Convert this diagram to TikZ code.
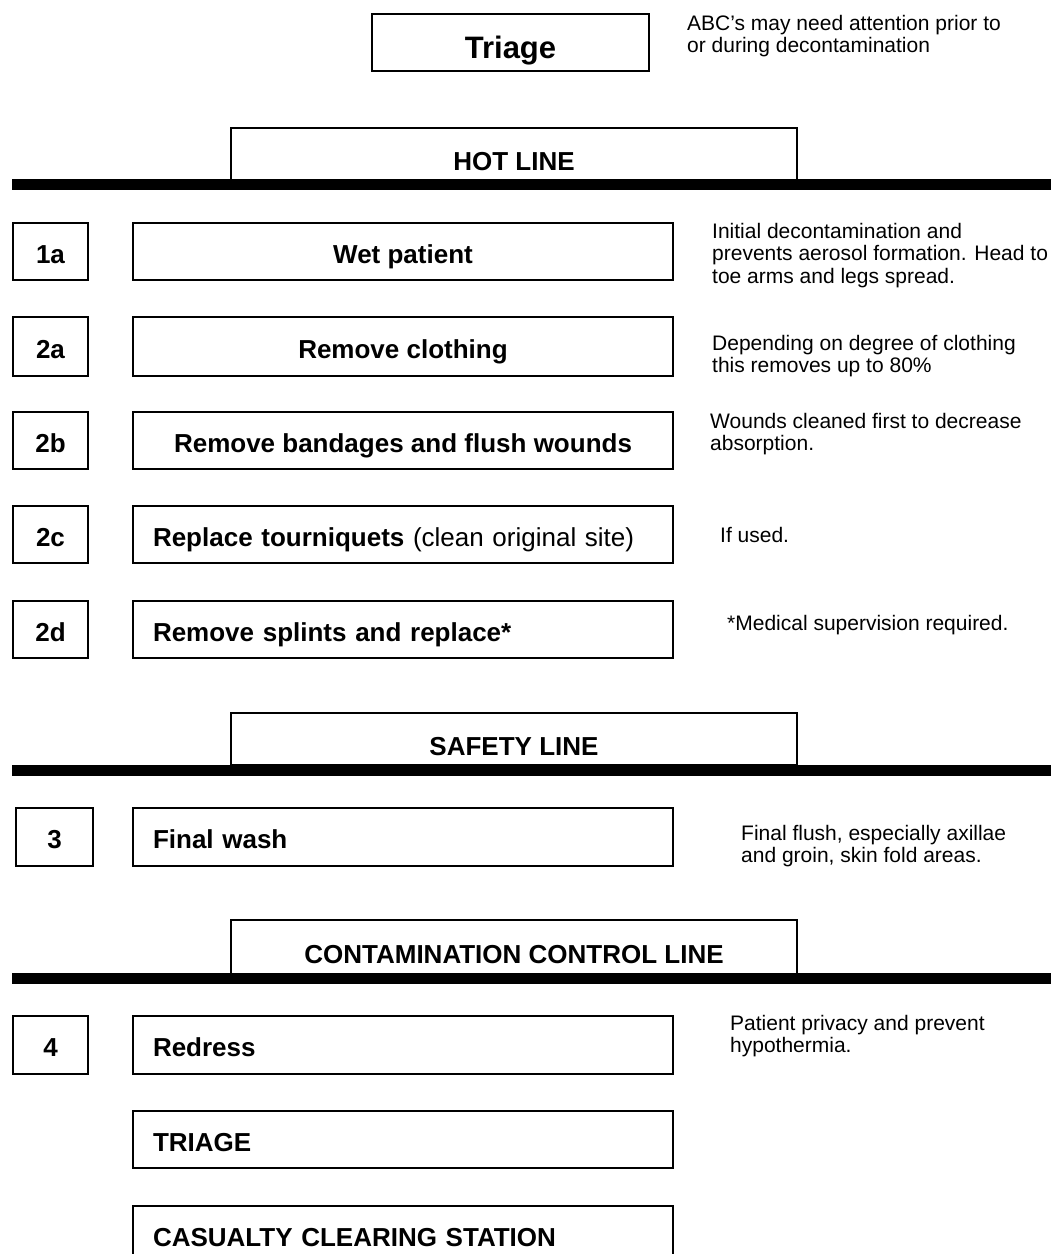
\documentclass[tikz,border=0pt]{standalone}
\usepackage{fontspec}
\setmainfont{Liberation Sans}
\begin{document}
\begin{tikzpicture}[x=1pt,y=-1pt,
  box/.style={draw, line width=2pt, inner sep=0pt, anchor=north west,
    minimum height=57pt, text height=23pt, text depth=0pt,
    font=\fontsize{26}{28}\selectfont\bfseries},
  mainbox/.style={box, minimum width=540pt},
  leftbox/.style={box, text width=500pt, inner xsep=20pt, align=left},
  numbox/.style={box, minimum width=75pt},
  tabbox/.style={box, minimum width=566pt, text height=32pt},
  barline/.style={line width=11pt},
  note/.style={anchor=north west, inner sep=0pt, align=left,
    font=\fontsize{21}{22.5}\selectfont},
]
\useasboundingbox (0,0) rectangle (1051,1254);

% top triage
\node[box, minimum width=277pt, minimum height=57pt, text height=31pt,
  font=\fontsize{31}{33}\selectfont\bfseries] (triagetop) at (371,13) {Triage};
\node[note] (abc) at (687,15) {ABC's may need attention prior to\\or during decontamination};

% hot line
\node[tabbox, minimum height=52pt] (hot) at (230,127) {HOT LINE};
\coordinate (hotL) at (12,184.5);
\coordinate (hotR) at (1056,184.5);
\draw[barline] (hotL) -- (hotR);

% 1a
\node[numbox] (n1a) at (12,222) {1a};
\node[mainbox] (b1a) at (132,222) {Wet patient};
\node[note] (t1a) at (712,223) {Initial decontamination and\\prevents aerosol formation. Head to\\toe arms and legs spread.};

% 2a
\node[numbox, minimum height=59pt, text height=24pt] (n2a) at (12,316) {2a};
\node[mainbox, minimum height=59pt, text height=24pt] (b2a) at (132,316) {Remove clothing};
\node[note] (t2a) at (712,335) {Depending on degree of clothing\\this removes up to 80\%};

% 2b
\node[numbox] (n2b) at (12,411) {2b};
\node[mainbox] (b2b) at (132,411) {Remove bandages and flush wounds};
\node[note] (t2b) at (710,413) {Wounds cleaned first to decrease\\absorption.};

% 2c
\node[numbox] (n2c) at (12,505) {2c};
\node[leftbox] (b2c) at (132,505) {Replace tourniquets \mdseries(clean original site)};
\node[note] (t2c) at (720,527) {If used.};

% 2d
\node[numbox] (n2d) at (12,600) {2d};
\node[leftbox] (b2d) at (132,600) {Remove splints and replace*};
\node[note] (t2d) at (727,615) {*Medical supervision required.};

% safety line
\node[tabbox, minimum height=52pt] (safety) at (230,712) {SAFETY LINE};
\coordinate (safL) at (12,770);
\coordinate (safR) at (1056,770);
\draw[barline] (safL) -- (safR);

% 3
\node[box, minimum width=77pt, minimum height=58pt] (n3) at (15,807) {3};
\node[leftbox, minimum height=58pt] (b3) at (132,807) {Final wash};
\node[note] (t3) at (741,825) {Final flush, especially axillae\\and groin, skin fold areas.};

% contamination control line
\node[tabbox, minimum height=54pt, text height=33pt] (contam) at (230,919) {CONTAMINATION CONTROL LINE};
\coordinate (conL) at (12,978);
\coordinate (conR) at (1056,978);
\draw[barline] (conL) -- (conR);

% 4
\node[numbox, minimum height=58pt] (n4) at (12,1015) {4};
\node[leftbox, minimum height=58pt] (b4) at (132,1015) {Redress};
\node[note] (t4) at (730,1015) {Patient privacy and prevent\\hypothermia.};

% triage / CCS
\node[leftbox] (b5) at (132,1110) {TRIAGE};
\node[leftbox] (b6) at (132,1205) {CASUALTY CLEARING STATION};
\end{tikzpicture}
\end{document}
